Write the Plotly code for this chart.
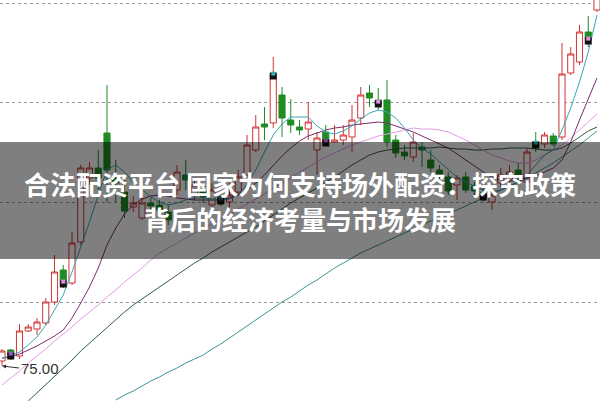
import plotly.graph_objects as go

idx = list(range(69))

opens = [75.25, 75.80, 75.50, 76.75, 76.85, 77.15, 78.20, 79.80, 79.15, 81.20,
         84.40, 84.90, 86.65, 84.40, 83.70, 82.95, 82.40, 83.15, 83.05, 82.70,
         83.80, 84.55, 83.55, 83.80, 83.05, 83.45, 83.20, 83.70, 84.55, 85.80,
         87.10, 87.15, 88.55, 87.30, 86.95, 86.85, 85.80, 86.70, 86.20, 86.30,
         86.45, 87.40, 88.65, 88.30, 88.30, 86.30, 85.70, 85.45, 85.95, 85.30,
         84.80, 84.45, 84.05, 84.45, 84.00, 83.65, 83.20, 84.15, 84.30, 84.80,
         84.20, 86.20, 86.10, 86.50, 86.45, 89.65, 90.20, 91.70, 92.80]
closes = [75.75, 75.55, 76.75, 76.95, 77.20, 78.20, 79.70, 79.25, 81.15, 84.90,
          84.90, 84.40, 84.80, 84.15, 82.75, 83.15, 83.15, 83.00, 82.80, 82.30,
          84.70, 84.30, 84.05, 83.45, 83.80, 83.20, 83.55, 84.45, 86.05, 86.95,
          86.95, 89.55, 87.40, 87.05, 86.80, 87.20, 86.40, 86.20, 86.30, 86.55,
          87.30, 88.55, 88.40, 88.10, 86.20, 85.65, 85.50, 86.20, 85.80, 84.90,
          84.55, 83.75, 84.40, 83.80, 83.75, 83.40, 83.55, 84.55, 84.70, 84.50,
          85.70, 85.95, 86.55, 86.10, 89.60, 90.60, 91.70, 91.40, 93.40]
highs = [75.85, 75.85, 77.10, 77.10, 77.40, 78.40, 80.55, 80.05, 81.70, 85.05,
         85.20, 85.80, 89.05, 85.30, 84.55, 83.50, 83.55, 83.40, 83.30, 83.05,
         85.05, 85.30, 84.30, 84.05, 84.15, 83.65, 84.15, 84.80, 86.55, 87.55,
         87.95, 90.45, 88.95, 88.35, 87.30, 88.20, 86.70, 87.05, 87.05, 87.05,
         88.05, 88.95, 89.05, 88.90, 89.30, 86.55, 86.05, 86.65, 86.20, 85.80,
         85.05, 84.70, 84.55, 84.70, 84.20, 83.90, 83.70, 84.90, 85.05, 85.15,
         85.90, 86.70, 86.70, 86.65, 91.15, 90.95, 92.05, 92.50, 93.70]
lows = [75.00, 75.30, 75.35, 76.70, 76.55, 77.05, 78.05, 78.90, 79.05, 81.05,
        84.05, 83.80, 83.20, 83.20, 82.40, 82.70, 82.30, 82.80, 82.55, 82.05,
        83.55, 83.80, 83.30, 83.15, 82.95, 83.00, 82.95, 83.55, 84.40, 85.70,
        86.30, 86.90, 86.45, 86.65, 86.55, 86.30, 84.55, 86.05, 86.15, 86.05,
        85.70, 87.05, 87.95, 87.80, 85.95, 85.40, 85.30, 85.20, 84.95, 84.70,
        84.30, 83.55, 83.30, 83.65, 83.55, 83.20, 82.80, 83.90, 84.05, 84.30,
        84.05, 85.70, 85.90, 86.00, 86.30, 89.55, 90.05, 90.95, 92.70]

ma5 = [75.40, 75.50, 75.70, 76.05, 76.45, 77.05, 77.80, 78.55, 79.70, 80.90,
       82.20, 83.55, 84.80, 85.05, 84.70, 84.20, 83.80, 83.45, 83.20, 83.05,
       83.15, 83.30, 83.40, 83.40, 83.35, 83.30, 83.35, 83.55, 84.05, 84.80,
       85.70, 86.55, 87.10, 87.45, 87.45, 87.45, 87.00, 86.70, 86.60, 86.75,
       87.00, 87.35, 87.65, 87.80, 87.70, 87.40, 86.90, 86.30, 85.90, 85.60,
       85.20, 84.80, 84.45, 84.20, 84.00, 83.80, 83.70, 83.80, 84.00, 84.20,
       84.55, 85.05, 85.55, 85.80, 86.80, 87.90, 89.20, 90.70, 92.55]
ma10 = [75.40, 75.45, 75.60, 75.80, 76.00, 76.25, 76.50, 76.80, 77.40, 78.15,
        78.95, 79.90, 81.05, 81.90, 82.60, 83.05, 83.35, 83.50, 83.55, 83.50,
        83.40, 83.35, 83.30, 83.30, 83.30, 83.30, 83.40, 83.55, 83.80, 84.15,
        84.55, 85.05, 85.50, 85.90, 86.25, 86.50, 86.65, 86.80, 86.90, 86.95,
        87.05, 87.10, 87.15, 87.20, 87.15, 87.00, 86.85, 86.70, 86.50, 86.30,
        86.10, 85.90, 85.60, 85.30, 85.00, 84.70, 84.45, 84.30, 84.25, 84.30,
        84.40, 84.50, 84.70, 84.90, 85.30, 86.20, 87.30, 88.40, 89.40]
ma20 = [74.05, 74.40, 74.75, 75.15, 75.50, 75.85, 76.25, 76.60, 76.95, 77.35,
        77.70, 78.05, 78.45, 78.80, 79.20, 79.55, 79.90, 80.30, 80.65, 80.90,
        81.15, 81.40, 81.65, 81.90, 82.10, 82.35, 82.60, 82.85, 83.10, 83.35,
        83.60, 83.90, 84.15, 84.40, 84.70, 84.95, 85.20, 85.45, 85.65, 85.85,
        86.05, 86.20, 86.35, 86.50, 86.60, 86.70, 86.80, 86.90, 86.85, 86.85,
        86.80, 86.70, 86.50, 86.30, 86.05, 85.80, 85.55, 85.40, 85.25, 85.15,
        85.15, 85.30, 85.55, 85.80, 86.05, 86.40, 86.80, 87.20, 87.60]
ma60 = [None, None, None, 73.25, 73.65, 74.05, 74.45, 74.85, 75.30, 75.75,
        76.15, 76.55, 76.95, 77.35, 77.70, 78.05, 78.35, 78.65, 78.95, 79.25,
        79.55, 79.85, 80.15, 80.40, 80.70, 80.95, 81.20, 81.45, 81.70, 81.95,
        82.25, 82.55, 82.85, 83.15, 83.40, 83.65, 83.90, 84.20, 84.45, 84.75,
        85.05, 85.30, 85.55, 85.70, 85.80, 85.85, 85.90, 85.90, 85.90, 85.90,
        85.95, 85.90, 85.85, 85.85, 85.80, 85.80, 85.85, 85.85, 85.90, 85.90,
        85.90, 85.85, 85.80, 85.80, 85.90, 86.15, 86.45, 86.75, 86.95]
ma120 = [None] * 13 + [
        73.30, 73.55, 73.75, 74.00, 74.25, 74.45, 74.70,
        74.90, 75.15, 75.35, 75.55, 75.85, 76.10, 76.40, 76.70, 77.00, 77.30,
        77.60, 77.90, 78.20, 78.45, 78.75, 79.05, 79.30, 79.60, 79.90, 80.15,
        80.40, 80.65, 80.85, 81.05, 81.25, 81.45, 81.65, 81.85, 82.05, 82.25,
        82.40, 82.60, 82.80, 83.00, 83.20, 83.40, 83.60, 83.80, 84.00, 84.20,
        84.40, 84.65, 84.90, 85.15, 85.45, 85.75, 86.05, 86.40, 86.75]

sig_idx = [1, 7, 25, 31, 37, 43, 55, 61, 67]
sig_val = [75.50, 79.10, 83.25, 89.50, 86.15, 88.10, 83.45, 86.05, 91.25]
sig_cap = ['#9b59b6', '#e88ee8', '#2f6f6f', '#3fb0b8', '#8a3a8a',
           '#e88ee8', '#8a3a8a', '#3fb0b8', '#e88ee8']

grid_vals = [78.2, 83.2, 88.2, 93.15]
low_label = "75.00"
title_l1 = "合法配资平台 国家为何支持场外配资：探究政策"
title_l2 = "背后的经济考量与市场发展"

RED = '#d03434'
GREEN = '#1f8c24'

fig = go.Figure()
fig.add_trace(go.Candlestick(
    x=idx, open=opens, high=highs, low=lows, close=closes,
    increasing=dict(line=dict(color=RED, width=1), fillcolor='white'),
    decreasing=dict(line=dict(color=GREEN, width=1), fillcolor=GREEN),
    whiskerwidth=0, showlegend=False, hoverinfo='skip'))

for vals, col in [(ma120, '#3d9393'), (ma60, '#2f5f3c'), (ma20, '#e39be6'),
                  (ma10, '#7b2d6b'), (ma5, '#3ba6b4')]:
    fig.add_trace(go.Scatter(x=idx, y=vals, mode='lines',
                             line=dict(color=col, width=1),
                             showlegend=False, hoverinfo='skip'))

fig.add_trace(go.Scatter(x=sig_idx, y=sig_val, mode='markers',
                         marker=dict(symbol='square', size=7, color='#111111'),
                         showlegend=False, hoverinfo='skip'))
fig.add_trace(go.Scatter(x=sig_idx, y=[v + 0.12 for v in sig_val], mode='markers',
                         marker=dict(symbol='square', size=4, color=sig_cap),
                         showlegend=False, hoverinfo='skip'))

fig.add_annotation(x=0, y=lows[0], xref='x', yref='y', text=low_label,
                   showarrow=True, ax=17, ay=2, xanchor='left', yanchor='middle',
                   arrowhead=2, arrowsize=0.8, arrowwidth=1, arrowcolor='#333333',
                   standoff=0,
                   font=dict(family='Liberation Sans, Arial', size=15, color='#333333'))

H = 401
fig.add_shape(type='rect', xref='paper', yref='paper', x0=0, x1=1,
              y0=1 - 259 / H, y1=1 - 142 / H, fillcolor='rgba(0,0,0,0.5)',
              line=dict(width=0), layer='above')

for txt, ypx in [(title_l1, 183), (title_l2, 219)]:
    fig.add_annotation(x=0.5, y=1 - ypx / H, xref='paper', yref='paper',
                       text=txt, showarrow=False, xanchor='center', yanchor='middle',
                       font=dict(family='Noto Sans CJK SC', size=26, color='white',
                                 weight=700))

fig.update_layout(
    width=600, height=401, margin=dict(l=0, r=0, t=0, b=0),
    paper_bgcolor='white', plot_bgcolor='white',
    boxgap=0.3, boxgroupgap=0,
    xaxis=dict(range=[-2 / 8.75, 598 / 8.75], showgrid=False, zeroline=False,
               showticklabels=False, rangeslider=dict(visible=False), showline=False),
    yaxis=dict(range=[73.25, 93.3], tickvals=grid_vals, showticklabels=False,
               showgrid=True, gridcolor='#9a9a9a', griddash='dot', gridwidth=1,
               zeroline=False, showline=False),
)

fig.write_html("out.html", config={'displayModeBar': False, 'staticPlot': True},
               post_script="document.body.style.margin='0px';document.body.style.overflow='hidden';")
